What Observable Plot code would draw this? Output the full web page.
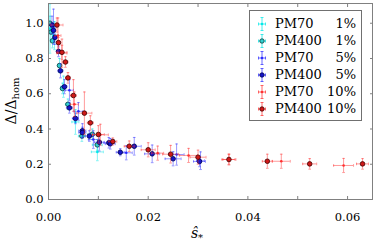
<!DOCTYPE html>
<html><head><meta charset="utf-8">
<script src="https://cdn.jsdelivr.net/npm/d3@7"></script>
<script src="https://cdn.jsdelivr.net/npm/@observablehq/plot@0.6"></script>
<style>
body{margin:0;background:#fff;}
#wrap{position:relative;width:374px;height:242px;font-family:"DejaVu Serif",serif;color:#000;}
#legend{position:absolute;left:249px;top:10px;width:111px;height:109px;border:1px solid #707070;background:#fff;box-sizing:content-box;}
.row{position:absolute;left:0;width:111px;height:17px;font-size:13px;line-height:17px;}
.row svg{position:absolute;left:4px;top:1px;}
.row .n{position:absolute;left:25px;}
.row .p{position:absolute;right:5px;}
#ylab{position:absolute;left:12px;top:101px;transform:translate(-50%,-50%) rotate(-90deg);font-size:14px;white-space:nowrap;}
#ylab sub{font-size:10px;vertical-align:-3px;}
#xlab{position:absolute;left:197px;top:225px;transform:translateX(-50%);font-size:14px;font-style:italic;white-space:nowrap;}
#xlab sub{font-size:10px;vertical-align:-3px;font-style:normal;}
</style></head><body><div id="wrap"></div><script>
// ---- data ----
const pm70_1_x  = [0.0003,0.0012,0.0030,0.0054,0.0098];
const pm70_1_y  = [0.97,0.93,0.64,0.44,0.27];
const pm70_1_xe = [0.0003,0.0004,0.0005,0.0007,0.0012];
const pm70_1_ye = [0.14,0.08,0.06,0.07,0.05];

const pm400_1_x  = [0.0003,0.0005,0.0008,0.0022,0.0028,0.0039,0.0067,0.0088,0.0098];
const pm400_1_y  = [1.00,0.95,0.90,0.76,0.63,0.54,0.36,0.37,0.31];
const pm400_1_xe = [0.0002,0.0002,0.0003,0.0004,0.0004,0.0005,0.0007,0.0009,0.0010];
const pm400_1_ye = [0.04,0.04,0.04,0.04,0.03,0.03,0.03,0.03,0.03];

const pm70_5_x  = [0.0010,0.0042,0.0060,0.0090,0.0156,0.0257,0.0305];
const pm70_5_y  = [0.98,0.62,0.50,0.34,0.265,0.255,0.22];
const pm70_5_xe = [0.0005,0.0008,0.0009,0.0010,0.0012,0.0015,0.0008];
const pm70_5_ye = [0.10,0.06,0.05,0.05,0.04,0.06,0.05];

const pm400_5_x  = [0.0007,0.0010,0.0013,0.0020,0.0024,0.0032,0.0042,0.0054,0.0068,0.0068,0.0082,0.0102,0.0121,0.0124,0.0144,0.0172,0.0208,0.0250,0.0303];
const pm400_5_y  = [0.99,0.96,0.92,0.84,0.73,0.64,0.52,0.46,0.39,0.38,0.36,0.325,0.322,0.316,0.268,0.302,0.259,0.231,0.216];
const pm400_5_xe = [0.0003,0.0003,0.0003,0.0004,0.0005,0.0005,0.0006,0.0006,0.0007,0.0007,0.0008,0.0010,0.0010,0.0010,0.0008,0.0014,0.0015,0.0016,0.0012];
const pm400_5_ye = [0.05,0.04,0.04,0.03,0.04,0.04,0.03,0.03,0.04,0.03,0.03,0.05,0.03,0.03,0.02,0.05,0.05,0.04,0.03];

const pm70_10_x  = [0.0019,0.0027,0.0052,0.0104,0.0219,0.0281,0.0362,0.0467,0.0592];
const pm70_10_y  = [0.93,0.83,0.54,0.367,0.263,0.250,0.227,0.217,0.193];
const pm70_10_xe = [0.0006,0.0010,0.0008,0.0016,0.0012,0.0018,0.0012,0.0018,0.0020];
const pm70_10_ye = [0.10,0.08,0.07,0.06,0.04,0.04,0.03,0.04,0.04];

const pm400_10_x  = [0.0017,0.0020,0.0027,0.0034,0.0039,0.0050,0.0072,0.0084,0.0100,0.0129,0.0162,0.0200,0.0245,0.0300,0.0362,0.0439,0.0524,0.0630];
const pm400_10_y  = [0.99,0.89,0.835,0.78,0.69,0.59,0.49,0.435,0.369,0.329,0.302,0.282,0.257,0.240,0.227,0.217,0.202,0.202];
const pm400_10_xe = [0.0012,0.0004,0.0010,0.0005,0.0005,0.0006,0.0015,0.0006,0.0012,0.0008,0.0010,0.0014,0.0016,0.0016,0.0014,0.0010,0.0014,0.0012];
const pm400_10_ye = [0.04,0.03,0.04,0.03,0.03,0.09,0.12,0.04,0.05,0.02,0.03,0.04,0.05,0.04,0.03,0.04,0.03,0.03];

const seriesNames = ["PM70","PM400","PM70","PM400","PM70","PM400"];
const seriesPct   = ["1%","1%","5%","5%","10%","10%"];
const xMinorTicks = [0,0.01,0.02,0.03,0.04,0.05,0.06];
const xLabelTicks = [0,0.02,0.04,0.06];
const yTicks      = [0,0.2,0.4,0.6,0.8,1.0];

// ---- styles ----
const styles = [
  {bar:"#00e8e8", fill:"#00e8e8", stroke:"none", r:1.3},
  {bar:"#00e0e0", fill:"#30d0d0", stroke:"#0a3a3a", r:2.3},
  {bar:"#2a2aff", fill:"#2a2aff", stroke:"none", r:1.3},
  {bar:"#2a2aff", fill:"#1414c8", stroke:"#000050", r:2.3},
  {bar:"#ff3030", fill:"#ff3030", stroke:"none", r:1.3},
  {bar:"#ff3030", fill:"#d01818", stroke:"#400000", r:2.3}
];
const raw = [
  [pm70_1_x,pm70_1_y,pm70_1_xe,pm70_1_ye],
  [pm400_1_x,pm400_1_y,pm400_1_xe,pm400_1_ye],
  [pm70_5_x,pm70_5_y,pm70_5_xe,pm70_5_ye],
  [pm400_5_x,pm400_5_y,pm400_5_xe,pm400_5_ye],
  [pm70_10_x,pm70_10_y,pm70_10_xe,pm70_10_ye],
  [pm400_10_x,pm400_10_y,pm400_10_xe,pm400_10_ye]
];

const hcap = {draw(ctx, size){const r = Math.sqrt(size)/2; ctx.moveTo(-r,0); ctx.lineTo(r,0);}};
const vcap = {draw(ctx, size){const r = Math.sqrt(size)/2; ctx.moveTo(0,-r); ctx.lineTo(0,r);}};

const marks = [];
raw.forEach(([xs,ys,xes,yes], k) => {
  const st = styles[k];
  const rows = xs.map((x,i) => ({x, y: ys[i], xe: xes[i], ye: yes[i]}));
  const common = {stroke: st.bar, strokeOpacity: 0.55, strokeWidth: 0.9, clip: true};
  marks.push(
    Plot.ruleX(rows, {x:"x", y1: d=>d.y-d.ye, y2: d=>d.y+d.ye, ...common}),
    Plot.ruleY(rows, {y:"y", x1: d=>d.x-d.xe, x2: d=>d.x+d.xe, ...common}),
    Plot.dot(rows, {x:"x", y: d=>d.y+d.ye, symbol: hcap, r:1.5, ...common}),
    Plot.dot(rows, {x:"x", y: d=>d.y-d.ye, symbol: hcap, r:1.5, ...common}),
    Plot.dot(rows, {x: d=>d.x-d.xe, y:"y", symbol: vcap, r:1.5, ...common}),
    Plot.dot(rows, {x: d=>d.x+d.xe, y:"y", symbol: vcap, r:1.5, ...common}),
    Plot.dot(rows, {x:"x", y:"y", r: st.r, fill: st.fill, stroke: st.stroke, strokeWidth: 0.8, clip: true})
  );
});

const axisColor = "#808080";
const plot = Plot.plot({
  width: 374, height: 242,
  marginLeft: 48, marginRight: 2, marginTop: 3, marginBottom: 43,
  x: {domain: [0, 0.065]},
  y: {domain: [0, 1.112]},
  style: {fontFamily: "DejaVu Serif, serif", fontSize: "11.5px", color: "#000", background: "#fff"},
  marks: [
    ...marks,
    Plot.frame({stroke: axisColor}),
    Plot.axisX(xMinorTicks, {anchor:"bottom", tickSize:-3, tickFormat: () => "", stroke: axisColor, label: null}),
    Plot.axisX(xMinorTicks, {anchor:"top", tickSize:-3, tickFormat: () => "", stroke: axisColor, label: null}),
    Plot.axisY(yTicks, {anchor:"left", tickSize:-3, tickFormat: () => "", stroke: axisColor, label: null}),
    Plot.axisY(yTicks, {anchor:"right", tickSize:-3, tickFormat: () => "", stroke: axisColor, label: null}),
    Plot.axisX(xLabelTicks, {anchor:"bottom", tickSize:0, tickPadding:13, tickFormat: d3.format(".2f"), label: null, fill:"#000"}),
    Plot.axisY(yTicks, {anchor:"left", tickSize:0, tickPadding:5, tickFormat: d3.format(".1f"), label: null, fill:"#000"})
  ]
});

const wrap = document.getElementById("wrap");
wrap.appendChild(plot);

// labels
const yl = document.createElement("div"); yl.id = "ylab";
yl.innerHTML = "Δ/Δ<sub>hom</sub>"; wrap.appendChild(yl);
const xl = document.createElement("div"); xl.id = "xlab";
xl.innerHTML = "ŝ<sub>*</sub>"; wrap.appendChild(xl);

// legend
const lg = document.createElement("div"); lg.id = "legend";
seriesNames.forEach((n, k) => {
  const st = styles[k];
  const row = document.createElement("div"); row.className = "row";
  row.style.top = (4 + 17*k) + "px";
  const marker = st.stroke === "none"
    ? `<circle cx="8" cy="8" r="1.3" fill="${st.fill}"/>`
    : `<circle cx="8" cy="8" r="2.2" fill="${st.fill}" stroke="${st.stroke}" stroke-width="0.8"/>`;
  row.innerHTML = `<svg width="16" height="16"><g stroke="${st.bar}" stroke-width="0.9" stroke-opacity="0.8">
    <line x1="8" y1="1.5" x2="8" y2="14.5"/><line x1="6.5" y1="1.5" x2="9.5" y2="1.5"/><line x1="6.5" y1="14.5" x2="9.5" y2="14.5"/>
    <line x1="4.5" y1="8" x2="11.5" y2="8"/><line x1="4.5" y1="6.5" x2="4.5" y2="9.5"/><line x1="11.5" y1="6.5" x2="11.5" y2="9.5"/></g>${marker}</svg>
    <span class="n">${n}</span><span class="p">${seriesPct[k]}</span>`;
  lg.appendChild(row);
});
wrap.appendChild(lg);
</script></body></html>
